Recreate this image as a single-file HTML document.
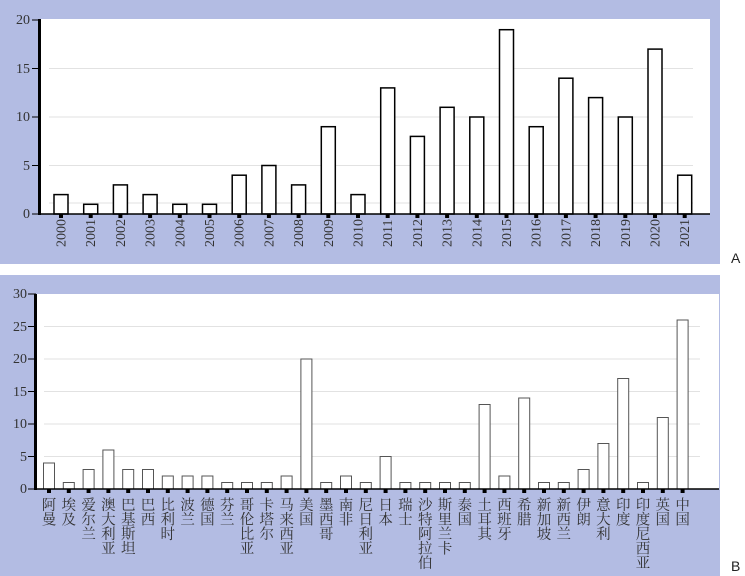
<!DOCTYPE html>
<html><head><meta charset="utf-8"><style>
body{margin:0;width:745px;height:576px;background:#fff;overflow:hidden}
svg{display:block}
</style></head><body>
<svg width="745" height="576" xmlns="http://www.w3.org/2000/svg" font-family="'Liberation Serif', 'Noto Serif CJK SC', serif" fill="#333">
<rect x="0" y="0" width="720" height="264" fill="#b3bce3"/>
<rect x="0" y="275" width="720" height="301" fill="#b3bce3"/>
<text x="731" y="263" font-size="14" font-family="'Liberation Sans', sans-serif" fill="#222">A</text>
<text x="731" y="571" font-size="14" font-family="'Liberation Sans', sans-serif" fill="#222">B</text>
<rect x="40" y="19" width="670" height="195" fill="#fff"/>
<g stroke="#e2e2e2" stroke-width="1">
<line x1="49" x2="693" y1="165.5" y2="165.5"/><line x1="49" x2="693" y1="117" y2="117"/><line x1="49" x2="693" y1="68.5" y2="68.5"/><line x1="49" x2="693" y1="203" y2="203"/>
</g>
<g id="topbars"></g>
<line x1="39.5" y1="19" x2="39.5" y2="215" stroke="#000" stroke-width="3"/>
<line x1="38" y1="214" x2="710" y2="214" stroke="#000" stroke-width="1.5"/>
<g stroke="#000" stroke-width="1">
<line x1="32" x2="40" y1="214" y2="214"/><line x1="32" x2="40" y1="165.5" y2="165.5"/><line x1="32" x2="40" y1="117" y2="117"/><line x1="32" x2="40" y1="68.5" y2="68.5"/><line x1="32" x2="40" y1="20" y2="20"/>
</g>
<g font-size="14" text-anchor="end" font-family="'Liberation Serif', serif">
<text x="30" y="218">0</text><text x="30" y="170">5</text><text x="30" y="121">10</text><text x="30" y="73">15</text><text x="30" y="24">20</text>
</g>
<g id="toplabels" font-size="14" font-family="'Liberation Serif', serif"></g>
<rect x="36" y="294" width="683" height="195" fill="#fff"/>
<g stroke="#e2e2e2" stroke-width="1">
<line x1="44" x2="700" y1="456.5" y2="456.5"/><line x1="44" x2="700" y1="424" y2="424"/><line x1="44" x2="700" y1="391.5" y2="391.5"/><line x1="44" x2="700" y1="359" y2="359"/><line x1="44" x2="700" y1="326.5" y2="326.5"/>
</g>
<g id="botbars"></g>
<line x1="35.5" y1="294" x2="35.5" y2="490" stroke="#000" stroke-width="3"/>
<line x1="34" y1="489" x2="719" y2="489" stroke="#000" stroke-width="1.5"/>
<g stroke="#000" stroke-width="1">
<line x1="28" x2="36" y1="489" y2="489"/><line x1="28" x2="36" y1="456.5" y2="456.5"/><line x1="28" x2="36" y1="424" y2="424"/><line x1="28" x2="36" y1="391.5" y2="391.5"/><line x1="28" x2="36" y1="359" y2="359"/><line x1="28" x2="36" y1="326.5" y2="326.5"/><line x1="28" x2="36" y1="294" y2="294"/>
</g>
<g font-size="14" text-anchor="end" font-family="'Liberation Serif', serif">
<text x="27" y="493">0</text><text x="27" y="461">5</text><text x="27" y="428">10</text><text x="27" y="396">15</text><text x="27" y="363">20</text><text x="27" y="331">25</text><text x="27" y="298">30</text>
</g>
<g id="botlabels" font-size="14.5" font-family="'Noto Serif CJK SC', 'Noto Sans CJK SC', serif"></g>
</svg>
<script>
var NS="http://www.w3.org/2000/svg";
function el(p,t,a,txt){var e=document.createElementNS(NS,t);for(var k in a)e.setAttribute(k,a[k]);if(txt)e.textContent=txt;document.getElementById(p).appendChild(e);}
var tv=[2,1,3,2,1,1,4,5,3,9,2,13,8,11,10,19,9,14,12,10,17,4];
tv.forEach(function(v,i){var cx=61+i*29.7,h=v*9.7;
el("topbars","rect",{x:cx-7,y:214-h,width:14,height:h,fill:"#fff",stroke:"#000","stroke-width":1.5});
el("topbars","rect",{x:cx-2,y:214,width:4,height:4,fill:"#000"});
el("toplabels","text",{transform:"translate("+(cx+4.5)+",247) rotate(-90)"},String(2000+i));});
var names=["阿曼","埃及","爱尔兰","澳大利亚","巴基斯坦","巴西","比利时","波兰","德国","芬兰","哥伦比亚","卡塔尔","马来西亚","美国","墨西哥","南非","尼日利亚","日本","瑞士","沙特阿拉伯","斯里兰卡","泰国","土耳其","西班牙","希腊","新加坡","新西兰","伊朗","意大利","印度","印度尼西亚","英国","中国"];
var bv=[4,1,3,6,3,3,2,2,2,1,1,1,2,20,1,2,1,5,1,1,1,1,13,2,14,1,1,3,7,17,1,11,26];
bv.forEach(function(v,i){var cx=49+i*19.8,h=v*6.5;
el("botbars","rect",{x:cx-5.5,y:489-h,width:11,height:h,fill:"#fff",stroke:"#555","stroke-width":1});
el("botbars","rect",{x:cx-2,y:489,width:4,height:4,fill:"#000"});
el("botlabels","text",{x:cx,y:497,style:"writing-mode:vertical-rl"},names[i]);});
</script>
</body></html>
